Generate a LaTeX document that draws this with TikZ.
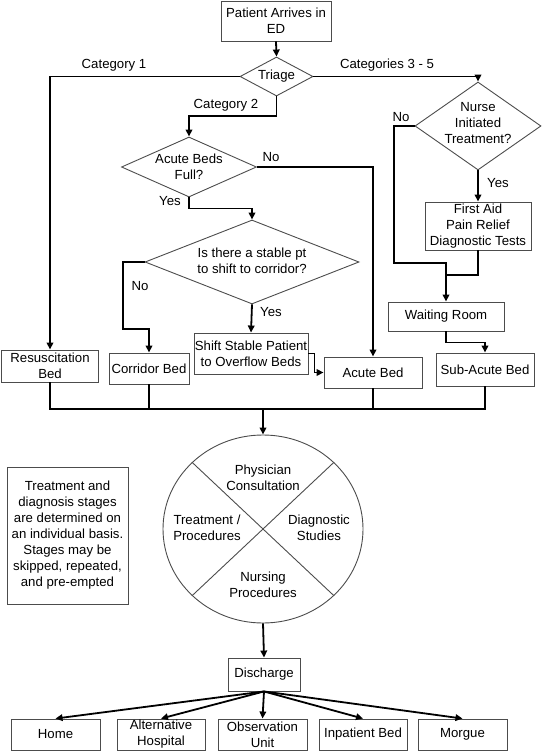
\documentclass[tikz,border=0pt]{standalone}
\usepackage{fontspec}
\setmainfont{Liberation Sans}
\usetikzlibrary{arrows.meta,shapes.geometric}
\begin{document}
\begin{tikzpicture}[x=1pt,y=-1pt,
  every node/.style={font=\fontsize{13.2}{16}\selectfont, inner sep=0pt, align=center},
  box/.style={draw=black!70, line width=0.9pt, rectangle},
  dia/.style={draw=black!70, line width=0.9pt, diamond},
  conn/.style={line width=1.8pt, black},
  arr/.style={conn, -{Triangle[length=7pt,width=6.5pt]}}]
\useasboundingbox (0,0) rectangle (542,751);
% boxes
\node[box, minimum width=110pt, minimum height=40pt] (arrive) at (276,21) {Patient Arrives in\\ED};
\node[box, minimum width=106pt, minimum height=48pt] (firstaid) at (478,226) {First Aid\\Pain Relief\\Diagnostic Tests};
\node[box, minimum width=116pt, minimum height=29pt] (waiting) at (446,316.5) {Waiting Room};
\node[box, minimum width=98pt, minimum height=33pt] (subacute) at (485,369.5) {Sub-Acute Bed};
\node[box, minimum width=98pt, minimum height=31pt] (acutebed) at (373,372.5) {Acute Bed};
\node[box, minimum width=114pt, minimum height=41pt] (shift) at (251,353.5) {Shift Stable Patient\\to Overflow Beds};
\node[box, minimum width=80pt, minimum height=31pt] (corridor) at (149,368.5) {Corridor Bed};
\node[box, minimum width=97pt, minimum height=32pt] (resus) at (50,366) {Resuscitation\\Bed};
\node[box, minimum width=121pt, minimum height=137pt] (note) at (67.5,535.5) {Treatment and\\diagnosis stages\\are determined on\\an individual basis.\\Stages may be\\skipped, repeated,\\and pre-empted};
\node[box, minimum width=72pt, minimum height=33pt] (discharge) at (264,674.5) {Discharge};
\node[box, minimum width=89pt, minimum height=31pt] (home) at (55.5,734.5) {Home};
\node[box, minimum width=88pt, minimum height=31pt] (alt) at (161,734.5) {Alternative\\Hospital};
\node[box, minimum width=89pt, minimum height=31pt] (obs) at (262.5,734.5) {Observation\\Unit};
\node[box, minimum width=88pt, minimum height=31pt] (inp) at (363,734.5) {Inpatient Bed};
\node[box, minimum width=89pt, minimum height=31pt] (morgue) at (462.5,734.5) {Morgue};
% diamonds
\node[dia, minimum width=73pt, minimum height=39pt] (triage) at (276.5,76.5) {};
\node (triageT) at (276.5,76) {Triage};
\node[dia, minimum width=126pt, minimum height=88pt] (nurse) at (478,126) {};
\node (nurseT) at (478,123) {Nurse\\Initiated\\Treatment?};
\node[dia, minimum width=135pt, minimum height=60pt] (acute) at (189,167) {};
\node (acuteT) at (189,167) {Acute Beds\\Full?};
\node[dia, minimum width=214pt, minimum height=84pt] (stable) at (252,262) {};
\node (stableT) at (252,261) {Is there a stable pt\\to shift to corridor?};
% circle
\node[draw=black!70, line width=0.9pt, ellipse, minimum width=200pt, minimum height=188pt] (circ) at (263,529) {};
\draw[draw=black!70, line width=0.9pt] (circ.north west) -- (circ.south east);
\draw[draw=black!70, line width=0.9pt] (circ.north east) -- (circ.south west);
\node (q1) at (263,478) {Physician\\Consultation};
\node (q2) at (207,528) {Treatment /\\Procedures};
\node (q3) at (319,528) {Diagnostic\\Studies};
\node (q4) at (263,585) {Nursing\\Procedures};
% labels
\node (l1) at (114,65) {Category 1};
\node (l2) at (387,65) {Categories 3 - 5};
\node (l3) at (226,105) {Category 2};
\node (l4) at (271,157) {No};
\node (l5) at (170,201) {Yes};
\node (l6) at (401,117) {No};
\node (l7) at (498,183) {Yes};
\node (l8) at (140,286) {No};
\node (l9) at (271,312) {Yes};
% connectors
\draw[arr] (arrive.south) -- (triage.north);
\draw[arr] (triage.west) -| (resus.north);
\draw[arr] (triage.east) -| (nurse.north);
\draw[arr] (triage.south) -- ++(0,19.5) -| (acute.north);
\draw[arr] (acute.east) -| (acutebed.north);
\draw[arr] (acute.south) -- ++(0,11) -| (stable.north);
\draw[arr] (stable.west) -| (123,329) -| (corridor.north);
\draw[arr] (stable.south) -- (shift.north);
\draw[arr] (shift.east) -- ++(6,0) |- (acutebed.west);
\draw[arr] (nurse.west) -| (394,263) -| (waiting.north);
\draw[conn] (firstaid.south) |- (446,275);
\draw[arr] (nurse.south) -- (firstaid.north);
\draw[arr] (waiting.south) -- ++(0,11) -| (subacute.north);
\coordinate (merge) at (263,409);
\draw[conn] (resus.south) |- (merge);
\draw[conn] (subacute.south) |- (merge);
\draw[conn] (corridor.south) -- (corridor.south |- merge);
\draw[conn] (acutebed.south) -- (acutebed.south |- merge);
\draw[arr] (merge) -- (circ.north);
\draw[arr] (circ.south) -- (discharge.north);
\foreach \o in {home,alt,obs,inp,morgue} \draw[arr] (discharge.south) -- (\o.north);
\end{tikzpicture}
\end{document}
